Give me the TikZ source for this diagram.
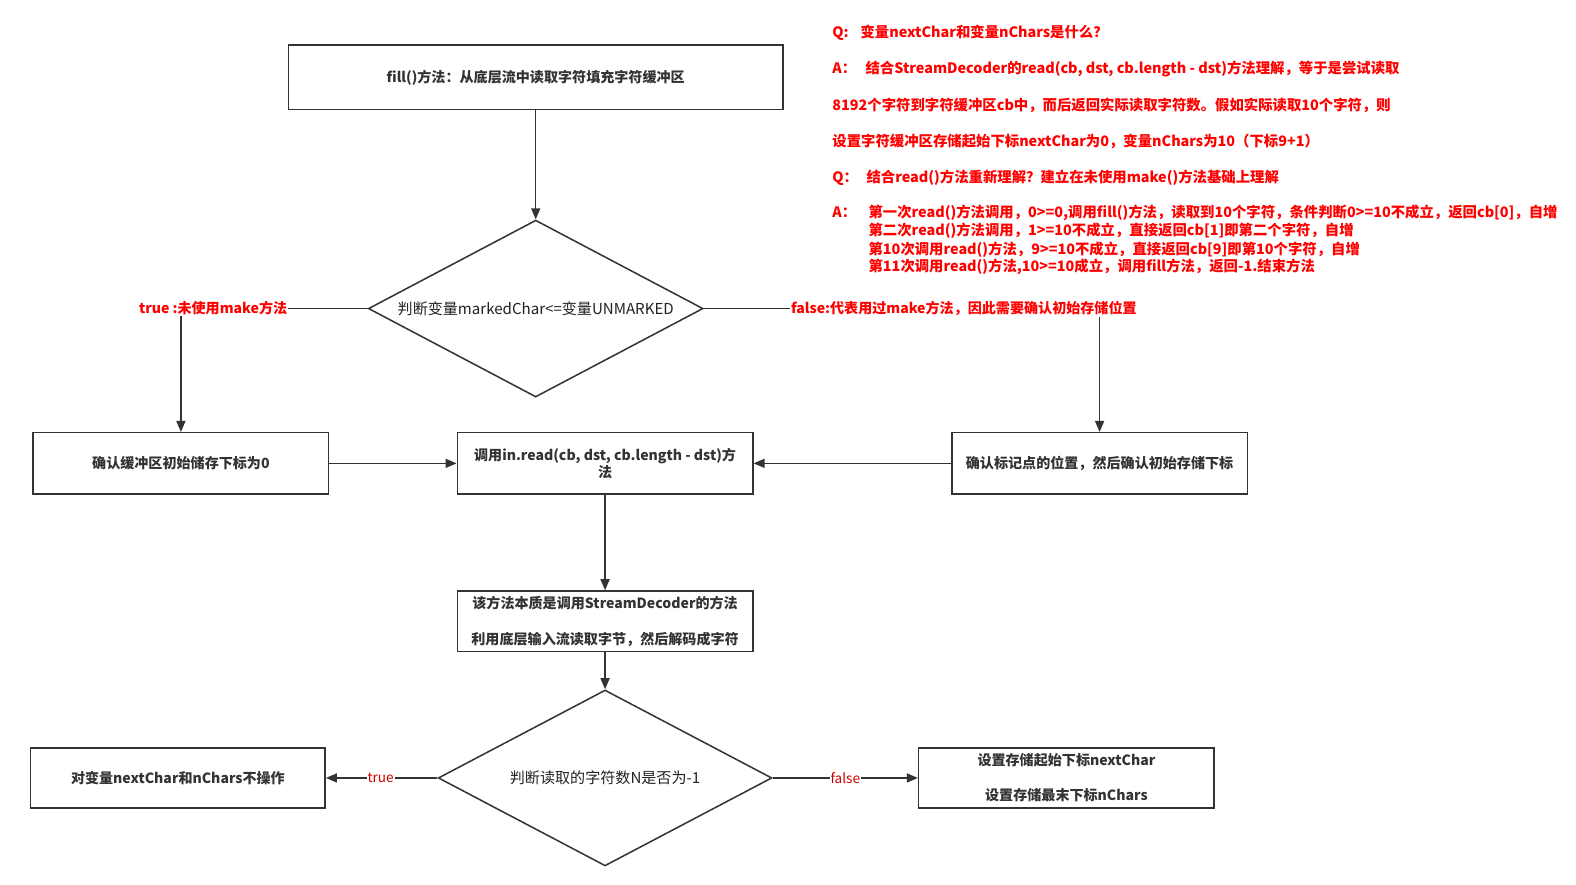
\documentclass[tikz,border=0pt]{standalone}
\usepackage{fontspec}
\setmainfont{Noto Sans CJK SC}
\usetikzlibrary{arrows.meta,shapes.geometric}
\definecolor{ink}{HTML}{333333}
\definecolor{dink}{HTML}{222222}
\definecolor{note}{HTML}{FF0000}
\definecolor{lbl}{HTML}{CC0000}
\tikzset{
  box/.style={draw=ink, line width=1.5pt, minimum width=294pt, minimum height=61pt, inner sep=0pt, align=center, text=ink, font=\fontsize{14}{17}\selectfont\bfseries},
  dia/.style={draw=ink, line width=1.5pt, shape=diamond, inner sep=0pt},
  diatext/.style={text=dink, font=\fontsize{15}{18}\selectfont},
  conn/.style={draw=ink, line width=1.5pt, -{Triangle[length=11pt,width=9pt]}},
  redlbl/.style={fill=white, text=note, inner sep=1pt, font=\fontsize{14}{17}\selectfont\bfseries},
  smlbl/.style={fill=white, text=lbl, inner sep=1pt, font=\fontsize{13.5}{16}\selectfont},
  notetext/.style={anchor=west, inner sep=0pt, text=note, font=\fontsize{14.3}{17}\selectfont\bfseries}
}
\begin{document}
\begin{tikzpicture}[x=1pt,y=-1pt]
\useasboundingbox[fill=white] (0,0) rectangle (1568,880);
% nodes
\node[box, minimum width=492pt, minimum height=64pt] (fill) at (533,77) {fill()方法：从底层流中读取字符填充字符缓冲区};
\node[dia, minimum width=333pt, minimum height=176pt] (d1) at (533,307) {};
\node[diatext] (d1t) at (533,307) {判断变量markedChar<=变量UNMARKED};
\node[box] (lbox) at (180,461) {确认缓冲区初始储存下标为0};
\node[box] (mbox) at (602,461) {调用in.read(cb, dst, cb.length - dst)方\\法};
\node[box] (rbox) at (1094,461) {确认标记点的位置，然后确认初始存储下标};
\node[box, minimum height=60pt] (sbox) at (602,618) {该方法本质是调用StreamDecoder的方法\\[19pt]利用底层输入流读取字节，然后解码成字符};
\node[dia, minimum width=332pt, minimum height=175pt] (d2) at (602,774) {};
\node[diatext] (d2t) at (602,774) {判断读取的字符数N是否为-1};
\node[box, minimum width=293pt, minimum height=60pt] (blbox) at (177,774) {对变量nextChar和nChars不操作};
\node[box, minimum width=294pt, minimum height=60pt] (brbox) at (1061,774) {设置存储起始下标nextChar\\[18pt]设置存储最末下标nChars};
% connectors
\draw[conn] (fill.south) -- (d1.north);
\draw[conn] (d1.west) -| (lbox.north);
\node[redlbl] (tl) at (212,307) {true :未使用make方法};
\draw[conn] (d1.east) -| (rbox.north);
\node[redlbl] (fl) at (959,307) {false:代表用过make方法，因此需要确认初始存储位置};
\draw[conn] (lbox.east) -- (mbox.west);
\draw[conn] (rbox.west) -- (mbox.east);
\draw[conn] (mbox.south) -- (sbox.north);
\draw[conn] (sbox.south) -- (d2.north);
\draw[conn] (d2.west) -- node[smlbl, pos=0.51] (t2) {true} (blbox.east);
\draw[conn] (d2.east) -- node[smlbl, pos=0.5] (f2) {false} (brbox.west);
% notes
\node[notetext] (n1) at (828,33) {\makebox[28pt][l]{Q:}变量nextChar和变量nChars是什么？};
\node[notetext] (n2) at (828,69) {\makebox[33pt][l]{A：}结合StreamDecoder的read(cb, dst, cb.length - dst)方法理解，等于是尝试读取};
\node[notetext] (n3) at (828,105) {8192个字符到字符缓冲区cb中，而后返回实际读取字符数。假如实际读取10个字符，则};
\node[notetext] (n4) at (828,141) {设置字符缓冲区存储起始下标nextChar为0，变量nChars为10（下标9+1）};
\node[notetext] (n5) at (828,177) {\makebox[34pt][l]{Q：}结合read()方法重新理解？建立在未使用make()方法基础上理解};
\node[notetext] (n6) at (828,212) {\makebox[36pt][l]{A：}第一次read()方法调用，0>=0,调用fill()方法，读取到10个字符，条件判断0>=10不成立，返回cb[0]，自增};
\node[notetext] (n7) at (864,230) {第二次read()方法调用，1>=10不成立，直接返回cb[1]即第二个字符，自增};
\node[notetext] (n8) at (864,248) {第10次调用read()方法，9>=10不成立，直接返回cb[9]即第10个字符，自增};
\node[notetext] (n9) at (864,266) {第11次调用read()方法,10>=10成立，调用fill方法，返回-1.结束方法};
\end{tikzpicture}
\end{document}
